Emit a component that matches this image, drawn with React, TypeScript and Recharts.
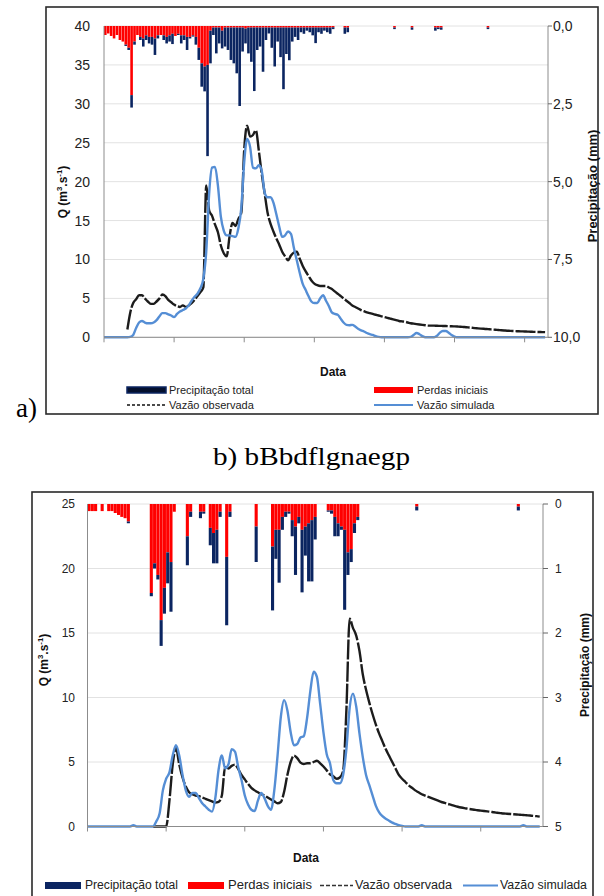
import React from 'react';
import { ComposedChart, Bar, Line, XAxis, YAxis, CartesianGrid } from 'recharts';

// ---------- Chart a) : hourly steps ----------
const precipTotalA = [
  0.29,0.24,0.32,0.40,0.29,0.45,0.50,0.64,0.77,2.62,
  0.60,0.29,0.45,0.66,0.45,0.56,0.60,0.93,0.40,0.29,
  0.45,0.56,0.50,0.58,0.32,0.29,0.56,0.45,0.77,0.40,
  0.34,0.60,1.09,1.95,2.10,4.18,1.20,0.29,0.88,0.56,
  0.72,0.66,0.77,1.09,1.20,1.52,2.57,0.82,0.56,0.88,
  1.15,2.09,0.77,0.66,1.47,0.45,0.24,0.70,1.30,0.50,
  1.00,2.03,0.90,1.10,0.50,0.35,0.45,0.20,0.25,0.15,
  0.20,0.30,0.55,0.20,0.25,0.15,0.20,0.25,0.10,0,
  0,0,0.25,0.20,0,0,0,0,0,0,
  0,0,0,0,0,0,0,0,0,0.10,
  0,0,0,0,0,0.12,0,0,0,0,
  0,0,0,0.15,0.10,0.12,0,0,0,0,
  0,0,0,0,0,0,0,0,0,0,
  0,0.10,0,0,0,0,0,0,0,0,
  0,0,0,0,0,0,0,0,0,0,
  0,0,
];
const lossA = [
  0.29,0.24,0.32,0.40,0.29,0.45,0.50,0.60,0.70,2.22,
  0.50,0.29,0.35,0.40,0.30,0.35,0.35,0.40,0.30,0.29,
  0.30,0.35,0.30,0.25,0.32,0.25,0.30,0.30,0.35,0.35,
  0.30,0.35,0.70,1.20,1.30,1.25,0.15,0.05,0.05,0.05,
  0.15,0.05,0.05,0.05,0.05,0.05,0.05,0.05,0.08,0.05,
  0.05,0.05,0.05,0.05,0.05,0.05,0.05,0.05,0.05,0.05,
  0.05,0.05,0.05,0.05,0.05,0.05,0.05,0.05,0.05,0.05,
  0.05,0.05,0.05,0.05,0.05,0.05,0.05,0.05,0.04,0,
  0,0,0.05,0.05,0,0,0,0,0,0,
  0,0,0,0,0,0,0,0,0,0.05,
  0,0,0,0,0,0.05,0,0,0,0,
  0,0,0,0.05,0.05,0.05,0,0,0,0,
  0,0,0,0,0,0,0,0,0,0,
  0,0.05,0,0,0,0,0,0,0,0,
  0,0,0,0,0,0,0,0,0,0,
  0,0,
];
const obsA = [
  null,null,null,null,null,null,null,null,1.0,3.2,
  4.4,4.9,5.4,5.4,5.0,4.6,4.3,4.3,4.6,5.0,
  5.5,5.3,4.8,4.5,4.2,4.0,3.9,4.1,3.9,4.1,
  4.4,4.8,5.3,5.8,6.4,19.5,16.3,15.6,14.5,13.5,
  11.8,10.8,10.4,13.0,14.7,14.3,15.2,16.0,24.1,27.2,
  25.8,26.0,26.6,24.0,21.0,18.5,16.0,14.6,13.6,12.7,
  11.9,11.0,10.4,9.9,10.5,10.9,11.0,10.1,9.2,8.5,
  7.9,7.3,6.9,6.7,6.6,6.6,6.6,6.4,6.2,5.9,
  5.6,5.3,5.0,4.7,4.4,4.1,3.9,3.7,3.5,3.35,
  3.2,3.1,3.0,2.9,2.8,2.7,2.6,2.5,2.4,2.3,
  2.2,2.1,2.05,2.0,1.9,1.8,1.75,1.7,1.65,1.6,
  1.55,1.5,1.5,1.5,1.48,1.47,1.46,1.45,1.43,1.42,
  1.4,1.38,1.36,1.33,1.3,1.26,1.22,1.18,1.15,1.12,
  1.09,1.06,1.03,1.0,0.97,0.94,0.91,0.88,0.85,0.83,
  0.81,0.79,0.77,0.76,0.75,0.73,0.72,0.7,0.69,0.68,
  0.67,0.66,
];
const simA = [
  0,0,0,0,0,0,0,0,0,0.05,
  0.3,1.2,1.9,2.1,1.9,1.8,1.8,1.9,2.2,2.7,
  3.1,3.1,2.95,2.8,2.6,3.0,3.3,3.5,3.7,4.1,
  4.7,5.2,5.6,6.3,7.5,11.0,18.5,21.8,21.9,19.5,
  15.5,13.7,13.1,13.1,13.0,12.9,14.0,16.6,22.5,25.5,
  24.5,21.8,21.7,22.1,21.4,18.6,18.0,18.0,17.3,15.8,
  14.2,12.9,13.1,13.6,13.3,11.5,9.9,8.3,6.9,6.1,
  5.3,4.6,4.4,4.4,5.0,5.4,4.7,4.0,3.2,3.0,
  2.9,2.4,1.9,1.6,1.55,1.6,1.4,1.1,0.9,0.75,
  0.55,0.4,0.3,0.15,0.05,0,0,0,0,0,
  0,0,0,0,0,0.05,0.3,0.55,0.4,0.15,
  0,0,0,0,0.2,0.6,0.8,0.8,0.6,0.3,
  0.1,0,0,0,0,0,0,0,0,0,
  0,0,0,0,0,0,0,0,0,0,
  0,0,0,0,0,0,0,0,0,0,
  0,0,
];
const dayTicksA = [0, 24, 48, 72, 96, 120, 144];
const qTicksA = [0, 5, 10, 15, 20, 25, 30, 35, 40];
const pTicksA = [0, 2.5, 5, 7.5, 10];

// ---------- Chart b) : hourly steps ----------
const precipTotalB = [
  0.11,0.11,0.11,0,0.11,0,0.11,0.11,0.14,0.17,
  0.20,0.22,0.30,0,0,0,0,0,0,1.43,
  1.00,1.17,2.20,1.70,1.23,1.67,0.12,0,0,0,
  0.95,0.20,0,0,0.22,0.15,0,0.64,0.92,0.92,
  0.20,0,1.88,0.20,0,0,0,0,0,0,
  0,0.90,0,0,0,0,1.65,0.85,1.22,0.40,
  0.20,0.15,0.50,1.10,0.30,1.37,0.80,1.20,1.20,0.55,
  0,0,0,0.12,0.15,0.50,0.50,0.40,1.64,1.10,
  0.90,0.45,0.25,0,0,0,0,0,0,0,
  0,0,0,0,0,0,0,0,0,0,
  0.10,0,0,0,0,0,0,0,0,0,
  0,0,0,0,0,0,0,0,0,0,
  0,0,0,0,0,0,0,0,0,0,
  0,0.10,0,0,0,0,0,0,0,
];
const lossB = [
  0.11,0.11,0.11,0,0.11,0,0.11,0.11,0.14,0.17,
  0.20,0.22,0.27,0,0,0,0,0,0,1.38,
  0.92,1.10,1.80,1.30,0.75,0.90,0.12,0,0,0,
  0.50,0.12,0,0,0.12,0.12,0,0.37,0.45,0.40,
  0.12,0,0.82,0.12,0,0,0,0,0,0,
  0,0.35,0,0,0,0,0.66,0.40,0.40,0.20,
  0.12,0.12,0.25,0.35,0.20,0.40,0.35,0.30,0.25,0.20,
  0,0,0,0.10,0.10,0.20,0.30,0.35,0.40,0.75,
  0.70,0.30,0.20,0,0,0,0,0,0,0,
  0,0,0,0,0,0,0,0,0,0,
  0.04,0,0,0,0,0,0,0,0,0,
  0,0,0,0,0,0,0,0,0,0,
  0,0,0,0,0,0,0,0,0,0,
  0,0.04,0,0,0,0,0,0,0,
];
const obsB = [
  null,null,null,null,null,null,null,null,null,null,
  null,null,null,null,null,null,null,null,null,null,
  0,0,0,0,0,2.0,4.8,6.1,4.8,3.8,
  3.1,2.65,2.5,2.4,2.35,2.25,2.15,2.05,1.95,1.85,
  1.9,2.4,4.6,4.5,4.7,4.8,4.45,4.0,3.65,3.3,
  3.0,2.8,2.65,2.5,2.4,2.25,2.1,1.95,1.8,1.9,
  2.7,4.0,5.0,5.5,5.3,4.95,4.85,4.9,4.9,5.0,
  5.1,4.9,4.65,4.35,4.05,3.9,3.7,3.8,4.3,9.0,
  16.1,15.4,14.8,13.6,11.8,10.6,9.6,8.7,7.9,7.2,
  6.6,6.0,5.5,5.0,4.5,4.0,3.7,3.45,3.2,3.0,
  2.8,2.65,2.5,2.4,2.3,2.2,2.1,2.0,1.9,1.83,
  1.75,1.68,1.6,1.53,1.47,1.42,1.38,1.34,1.3,1.26,
  1.23,1.2,1.17,1.14,1.1,1.07,1.04,1.01,0.99,0.97,
  0.95,0.93,0.91,0.89,0.87,0.85,0.82,0.8,0.77,
];
const simB = [
  0,0,0,0,0,0,0,0,0,0,
  0,0,0,0,0.1,0,0,0,0,0,
  0,0.4,1.0,2.8,3.7,4.2,5.5,6.3,5.5,4.0,
  2.8,2.3,2.6,2.6,2.2,1.8,1.55,1.3,1.15,2.2,
  4.4,5.5,4.5,4.8,6.0,5.8,4.6,3.6,2.4,1.7,
  1.3,1.2,2.0,2.6,2.2,1.6,1.3,2.8,5.5,8.5,
  9.8,9.0,7.3,6.3,6.4,6.9,7.0,8.4,10.5,12.0,
  11.6,9.5,7.3,5.6,4.9,3.6,3.35,3.35,4.0,6.0,
  9.2,10.3,9.3,7.2,5.4,4.0,3.2,2.4,1.6,1.1,
  0.8,0.6,0.45,0.3,0.2,0.1,0.05,0,0,0,
  0,0,0.1,0,0,0,0,0,0,0,
  0,0,0,0,0,0,0,0,0,0,
  0,0,0,0,0,0,0,0,0,0,
  0,0,0,0.1,0,0,0,0,0,
];
const dayTicksB = [0, 24, 48, 72, 96, 120];
const qTicksB = [0, 5, 10, 15, 20, 25];
const pTicksB = [0, 1, 2, 3, 4, 5];

const legendLabels = ['Precipitação total', 'Perdas iniciais', 'Vazão observada', 'Vazão simulada'];

const NAVY = '#0b2561';
const RED = '#ff0000';
const BLUE = '#558ed5';
const BLACK = '#1c1c1c';
const SANS = '"Liberation Sans", Arial, sans-serif';
const SERIF = '"Liberation Serif", "Times New Roman", serif';

const r2 = (v: number) => Math.round(v * 1000) / 1000;
const buildRows = (tot: number[], loss: number[], obs: (number | null)[], sim: number[]) =>
  tot.map((t, i) => ({
    t: i,
    tb: i + 0.5,
    loss: loss[i],
    eff: Math.max(0, r2(t - loss[i])),
    obs: obs[i],
    sim: sim[i],
  }));

const rowsA = buildRows(precipTotalA, lossA, obsA, simA);
const rowsB = buildRows(precipTotalB, lossB, obsB, simB);

const comma1 = (v: number) => v.toFixed(1).replace('.', ',');

type CfgT = {
  rows: any[];
  n: number;
  dayTicks: number[];
  qTicks: number[];
  pTicks: number[];
  qMax: number;
  pMax: number;
  width: number;
  height: number;
  top: number;
  leftW: number;
  rightW: number;
  xH: number;
  barSize: number;
  qFont: number;
  pFont: number;
  qMargin: number;
  pSize: number;
  pMargin: number;
  pFmt: (v: number) => string;
};

function HydroChart(c: CfgT) {
  return (
    <ComposedChart
      width={c.width}
      height={c.height}
      data={c.rows}
      margin={{ top: c.top, right: 0, left: 0, bottom: 0 }}
    >
      <CartesianGrid xAxisId="l" yAxisId="q" vertical={false} stroke="#e2e2e2" />
      <XAxis xAxisId="b" type="number" dataKey="tb" domain={[0, c.n]} height={0} hide />
      <XAxis
        xAxisId="l"
        type="number"
        dataKey="t"
        domain={[0, c.n]}
        ticks={c.dayTicks}
        interval={0}
        height={c.xH}
        tickSize={5}
        tickFormatter={() => ''}
        axisLine={{ stroke: '#8c8c8c' }}
        tickLine={{ stroke: '#8c8c8c' }}
      />
      <YAxis
        yAxisId="q"
        domain={[0, c.qMax]}
        ticks={c.qTicks}
        interval={0}
        width={c.leftW}
        tickLine={false}
        tickMargin={c.qMargin}
        axisLine={{ stroke: '#8c8c8c' }}
        tick={{ fontSize: c.qFont, fill: '#222', fontFamily: SANS }}
      />
      <YAxis
        yAxisId="p"
        orientation="right"
        reversed
        domain={[0, c.pMax]}
        ticks={c.pTicks}
        interval={0}
        width={c.rightW}
        tickSize={c.pSize}
        tickMargin={c.pMargin}
        tickFormatter={c.pFmt}
        axisLine={{ stroke: '#8c8c8c' }}
        tickLine={{ stroke: '#666' }}
        tick={{ fontSize: c.pFont, fill: '#222', fontFamily: SANS, textAnchor: 'start' }}
      />
      <Bar xAxisId="b" yAxisId="p" dataKey="loss" stackId="p" fill={RED} barSize={c.barSize} isAnimationActive={false} />
      <Bar xAxisId="b" yAxisId="p" dataKey="eff" stackId="p" fill={NAVY} barSize={c.barSize} isAnimationActive={false} />
      <Line
        xAxisId="l"
        yAxisId="q"
        dataKey="obs"
        type="monotone"
        stroke={BLACK}
        strokeWidth={2.4}
        strokeDasharray="20 2"
        dot={false}
        activeDot={false}
        isAnimationActive={false}
      />
      <Line
        xAxisId="l"
        yAxisId="q"
        dataKey="sim"
        type="monotone"
        stroke={BLUE}
        strokeWidth={2.4}
        dot={false}
        activeDot={false}
        isAnimationActive={false}
      />
    </ComposedChart>
  );
}

function QLabel({ x, y, size }: { x: number; y: number; size: number }) {
  return (
    <text
      transform={`translate(${x},${y}) rotate(-90)`}
      textAnchor="middle"
      dominantBaseline="central"
      fontFamily={SANS}
      fontWeight="bold"
      fontSize={size}
      fill="#111"
    >
      Q (m<tspan dy={-size * 0.35} fontSize={size * 0.65}>3</tspan>
      <tspan dy={size * 0.35}>.s</tspan>
      <tspan dy={-size * 0.35} fontSize={size * 0.65}>-1</tspan>
      <tspan dy={size * 0.35}>)</tspan>
    </text>
  );
}

function PLabel({ x, y, size }: { x: number; y: number; size: number }) {
  return (
    <text
      transform={`translate(${x},${y}) rotate(-90)`}
      textAnchor="middle"
      dominantBaseline="central"
      fontFamily={SANS}
      fontWeight="bold"
      fontSize={size}
      fill="#111"
    >
      Precipitação (mm)
    </text>
  );
}

export default function App() {
  return (
    <div
      style={{
        position: 'absolute',
        left: 0,
        top: 0,
        width: 604,
        height: 896,
        overflow: 'hidden',
        background: '#fff',
      }}
    >
      <svg width={604} height={896} style={{ position: 'absolute', left: 0, top: 0 }}>
        {/* frames */}
        <rect x={46} y={7} width={552} height={407} fill="#fff" stroke="#2a2a2a" strokeWidth={1.6} />
        <rect x={32} y={492} width={561} height={430} fill="#fff" stroke="#2a2a2a" strokeWidth={1.6} />

        {/* figure labels */}
        <text x={16} y={417} fontFamily={SERIF} fontSize={27} fill="#000">a)</text>
        <text x={213} y={465} fontFamily={SERIF} fontSize={26} fill="#000" textLength={197} lengthAdjust="spacingAndGlyphs">
          b) bBbdflgnaegp
        </text>

        {/* chart a axis titles */}
        <QLabel x={63} y={192} size={12} />
        <PLabel x={592} y={186} size={13} />
        <text x={333} y={376} textAnchor="middle" fontFamily={SANS} fontWeight="bold" fontSize={12} fill="#111">Data</text>

        {/* chart a legend */}
        <rect x={127} y={387} width={39} height={6} fill="#04102e" stroke={NAVY} strokeWidth={1.5} />
        <text x={169} y={394} fontFamily={SANS} fontSize={11} fill="#222">{legendLabels[0]}</text>
        <rect x={374} y={387} width={39} height={6} fill={RED} />
        <text x={417} y={394} fontFamily={SANS} fontSize={11} fill="#222">{legendLabels[1]}</text>
        <line x1={127} y1={405} x2={166} y2={405} stroke="#111" strokeWidth={1.3} strokeDasharray="3 2" />
        <text x={169} y={409} fontFamily={SANS} fontSize={11} fill="#222">{legendLabels[2]}</text>
        <line x1={374} y1={405} x2={413} y2={405} stroke={BLUE} strokeWidth={2} />
        <text x={417} y={409} fontFamily={SANS} fontSize={11} fill="#222">{legendLabels[3]}</text>

        {/* chart b axis titles */}
        <QLabel x={44} y={660} size={12} />
        <PLabel x={585} y={665} size={12} />
        <text x={306} y={862} textAnchor="middle" fontFamily={SANS} fontWeight="bold" fontSize={12} fill="#111">Data</text>

        {/* chart b legend */}
        <rect x={45} y={882} width={36} height={7} fill={NAVY} />
        <text x={85} y={889} fontFamily={SANS} fontSize={12} fill="#222" textLength={93} lengthAdjust="spacingAndGlyphs">{legendLabels[0]}</text>
        <rect x={188} y={882} width={36} height={7} fill={RED} />
        <text x={228} y={889} fontFamily={SANS} fontSize={12} fill="#222" textLength={84} lengthAdjust="spacingAndGlyphs">{legendLabels[1]}</text>
        <line x1={320} y1={885.5} x2={353} y2={885.5} stroke="#333" strokeWidth={1.5} strokeDasharray="4 2" />
        <text x={355} y={889} fontFamily={SANS} fontSize={12} fill="#222" textLength={97} lengthAdjust="spacingAndGlyphs">{legendLabels[2]}</text>
        <line x1={463} y1={885.5} x2={498} y2={885.5} stroke={BLUE} strokeWidth={2} />
        <text x={500} y={889} fontFamily={SANS} fontSize={12} fill="#222" textLength={87} lengthAdjust="spacingAndGlyphs">{legendLabels[3]}</text>
      </svg>

      <div style={{ position: 'absolute', left: 0, top: 0 }}>
        <HydroChart
          rows={rowsA}
          n={152}
          dayTicks={dayTicksA}
          qTicks={qTicksA}
          pTicks={pTicksA}
          qMax={40}
          pMax={10}
          width={604}
          height={420}
          top={26}
          leftW={104}
          rightW={56}
          xH={82.7}
          barSize={2.6}
          qFont={14}
          pFont={14}
          qMargin={8}
          pSize={4}
          pMargin={1}
          pFmt={comma1}
        />
      </div>

      <div style={{ position: 'absolute', left: 0, top: 480 }}>
        <HydroChart
          rows={rowsB}
          n={139}
          dayTicks={dayTicksB}
          qTicks={qTicksB}
          pTicks={pTicksB}
          qMax={25}
          pMax={5}
          width={604}
          height={400}
          top={24}
          leftW={87.5}
          rightW={61}
          xH={53.5}
          barSize={3.1}
          qFont={12}
          pFont={12}
          qMargin={6.5}
          pSize={5}
          pMargin={7}
          pFmt={(v: number) => String(v)}
        />
      </div>
    </div>
  );
}
